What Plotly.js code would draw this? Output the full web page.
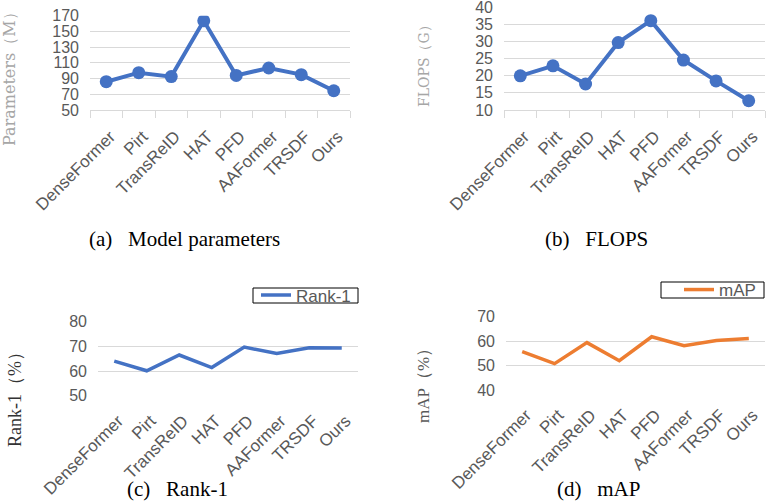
<!DOCTYPE html>
<html>
<head>
<meta charset="utf-8">
<script src="https://cdn.plot.ly/plotly-3.0.1.min.js"></script>
<style>
html, body { margin: 0; padding: 0; background: #fff; overflow: hidden; }
#chart { width: 800px; height: 502px; }
</style>
</head>
<body>
<div id="chart"></div>
<script>
// data
const models = ['DenseFormer', 'Pirt', 'TransReID', 'HAT', 'PFD', 'AAFormer', 'TRSDF', 'Ours'];
const params = [86, 97.5, 92.5, 163.5, 94, 103.5, 95, 74.5];
const flops = [20, 22.9, 17.6, 29.7, 36.1, 24.6, 18.5, 12.7];
const rank1 = [64, 60.1, 66.5, 61.4, 69.7, 67.1, 69.4, 69.3];
const mAP = [55.7, 50.8, 59.4, 52, 61.8, 58.1, 60.3, 61.1];

// paper is a bit wider than the 767px view so the right legend is not pushed left
const W = 800, H = 502;
const px = v => v / W;
const py = v => 1 - v / H;

const blue = '#4472C4';
const orange = '#ED7D31';
const sans = 'Liberation Sans, Arial, sans-serif';
const serif = 'Liberation Serif, Times New Roman, serif';
const wideSerif = 'DejaVu Serif, serif';
const tickFont = {family: sans, size: 16, color: '#595959'};
const catFont = {family: sans, size: 17, color: '#595959'};
const gap = '\u00a0\u00a0\u00a0';

function xAxis(dom, anchor, withTicks) {
    return {
        domain: dom, anchor: anchor, type: 'category', range: [-0.5, 7.5],
        tickangle: -45, tickfont: catFont, showgrid: false, zeroline: false,
        showline: withTicks, linecolor: '#d9d9d9', linewidth: 1,
        ticks: withTicks ? 'outside' : '', tickson: 'boundaries', ticklen: 7, tickcolor: '#d9d9d9',
        ticklabelstandoff: withTicks ? 9 : 11, ticklabelshift: 4,
        fixedrange: true
    };
}

function yAxis(dom, anchor, range, dtick) {
    return {
        domain: dom, anchor: anchor, range: range, dtick: dtick, tick0: Math.round(range[0]),
        tickfont: tickFont, showgrid: true, gridcolor: '#d9d9d9', gridwidth: 1,
        zeroline: false, showline: false, ticks: '', ticklabelstandoff: 10,
        ticklabeloverflow: 'allow', fixedrange: true
    };
}

const traces = [
    {x: models, y: params, xaxis: 'x', yaxis: 'y', type: 'scatter', mode: 'lines+markers',
     line: {color: blue, width: 4}, marker: {color: blue, size: 13}, showlegend: false},
    {x: models, y: flops, xaxis: 'x2', yaxis: 'y2', type: 'scatter', mode: 'lines+markers',
     line: {color: blue, width: 4}, marker: {color: blue, size: 13}, showlegend: false},
    {x: models, y: rank1, xaxis: 'x3', yaxis: 'y3', type: 'scatter', mode: 'lines', name: 'Rank-1',
     line: {color: blue, width: 3.5}, legend: 'legend'},
    {x: models, y: mAP, xaxis: 'x4', yaxis: 'y4', type: 'scatter', mode: 'lines', name: 'mAP',
     line: {color: orange, width: 3.5}, legend: 'legend2'}
];

const legendStyle = {
    xanchor: 'left', yanchor: 'middle', borderwidth: 0,
    bgcolor: 'rgba(0,0,0,0)', font: {family: sans, size: 17, color: '#595959'}
};

const boxStyle = {type: 'rect', xref: 'paper', yref: 'paper', line: {color: '#000', width: 1}};

const layout = {
    width: W, height: H,
    margin: {l: 0, r: 0, t: 0, b: 0, autoexpand: false},
    paper_bgcolor: '#fff', plot_bgcolor: '#fff',
    xaxis: xAxis([px(90), px(350)], 'y', true),
    yaxis: yAxis([py(110), py(15.7)], 'x', [50, 170.05], 20),
    xaxis2: xAxis([px(504), px(765)], 'y2', true),
    yaxis2: yAxis([py(110), py(7.3)], 'x2', [10, 40.02], 5),
    xaxis3: xAxis([px(98), px(358)], 'y3', false),
    yaxis3: yAxis([py(395.7), py(321.7)], 'x3', [49.98, 80.02], 10),
    xaxis4: xAxis([px(506), px(765)], 'y4', false),
    yaxis4: yAxis([py(390), py(316.7)], 'x4', [39.98, 70.02], 10),
    legend: Object.assign({x: px(256), y: py(295.5)}, legendStyle),
    legend2: Object.assign({x: px(679), y: py(290)}, legendStyle),
    shapes: [
        Object.assign({x0: px(253), x1: px(358), y0: py(288), y1: py(303)}, boxStyle),
        Object.assign({x0: px(661), x1: px(764), y0: py(282), y1: py(298)}, boxStyle)
    ],
    annotations: [
        {text: 'Parameters（M）', x: px(10), y: py(75), textangle: -90,
         font: {family: wideSerif, size: 16, color: '#a6a6a6'}},
        {text: 'FLOPS（G）', x: px(424), y: py(63), textangle: -90,
         font: {family: wideSerif, size: 14, color: '#a6a6a6'}},
        {text: 'Rank-1（%）', x: px(15), y: py(395), textangle: -90,
         font: {family: serif, size: 18, color: '#333'}},
        {text: 'mAP（%）', x: px(423), y: py(382), textangle: -90,
         font: {family: serif, size: 17, color: '#595959'}},
        {text: '(a)' + gap + 'Model parameters', x: px(184), y: py(239),
         font: {family: serif, size: 21, color: '#000'}},
        {text: '(b)' + gap + 'FLOPS', x: px(596), y: py(239),
         font: {family: serif, size: 21, color: '#000'}},
        {text: '(c)' + gap + 'Rank-1', x: px(177), y: py(489),
         font: {family: serif, size: 21, color: '#000'}},
        {text: '(d)' + gap + 'mAP', x: px(598), y: py(489),
         font: {family: serif, size: 21, color: '#000'}}
    ].map(a => Object.assign({xref: 'paper', yref: 'paper', showarrow: false,
                              xanchor: 'center', yanchor: 'middle'}, a))
};

Plotly.newPlot('chart', traces, layout, {displayModeBar: false, staticPlot: true});
</script>
</body>
</html>
